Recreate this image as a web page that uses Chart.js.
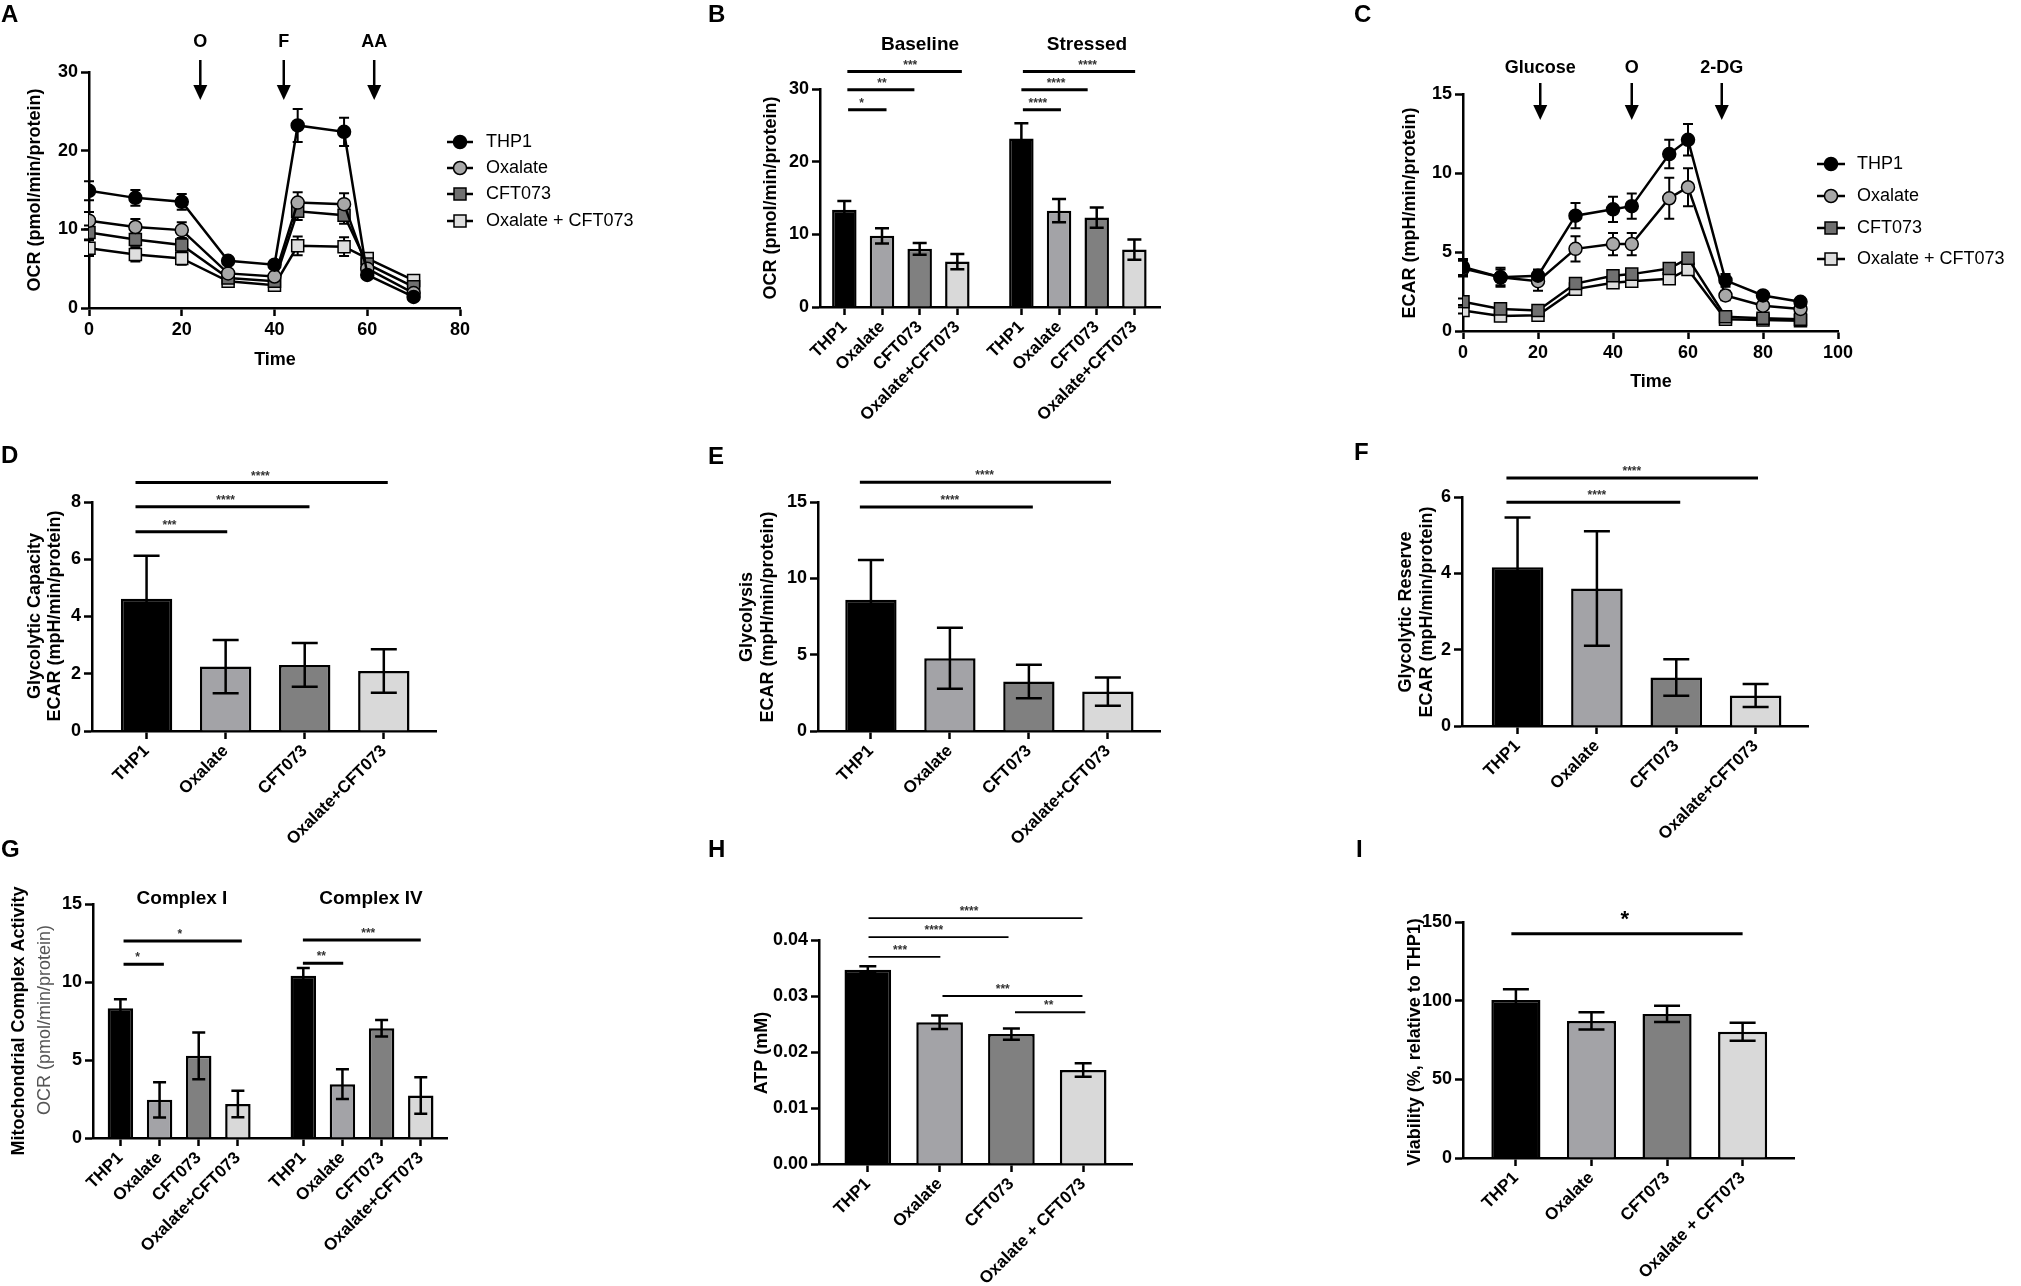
<!DOCTYPE html>
<html>
<head>
<meta charset="utf-8">
<script src="https://cdn.jsdelivr.net/npm/chart.js@4.4.0/dist/chart.umd.min.js"></script>
<style>
  html, body { margin: 0; padding: 0; background: #fff; }
  body { position: relative; width: 2021px; height: 1286px; overflow: hidden; }
  canvas { position: absolute; }
</style>
</head>
<body>
<script>
const FONT = '"Liberation Sans", Arial, sans-serif';
Chart.defaults.font.family = FONT;
Chart.defaults.color = '#000';

// shared categories and styling
const groups = ['THP1', 'Oxalate', 'CFT073', 'Oxalate+CFT073'];
const groupsSpaced = ['THP1', 'Oxalate', 'CFT073', 'Oxalate + CFT073'];
const legendNames = ['THP1', 'Oxalate', 'CFT073', 'Oxalate + CFT073'];
const barFill = ['#000000', '#a3a3a7', '#808080', '#d9d9d9'];
const lineFill = ['#000000', '#a8a8a8', '#707070', '#dedede'];
const markers = ['circle', 'circle', 'rect', 'rect'];

// A - OCR time course
const timeA = [0, 10, 20, 30, 40, 45, 55, 60, 70];
const ocrTHP1 = [14.9, 14.0, 13.5, 6.0, 5.5, 23.2, 22.4, 4.2, 1.4];
const ocrOxalate = [11.1, 10.3, 9.9, 4.4, 4.0, 13.4, 13.2, 5.0, 1.9];
const ocrCFT = [9.6, 8.7, 8.0, 3.8, 3.4, 12.3, 11.8, 5.6, 2.7];
const ocrOxCFT = [7.6, 6.8, 6.3, 3.4, 2.9, 7.9, 7.8, 6.3, 3.5];
const ocrTHP1Err = [1.2, 1.0, 1.0, 0.3, 0.3, 2.1, 1.8, 0.4, 0.3];
const ocrOxalateErr = [1.1, 1.0, 1.0, 0.4, 0.4, 1.3, 1.4, 0.5, 0.3];
const ocrCFTErr = [0.9, 0.8, 0.8, 0.3, 0.3, 1.1, 1.1, 0.5, 0.3];
const ocrOxCFTErr = [1.0, 0.9, 0.8, 0.3, 0.3, 1.2, 1.2, 0.5, 0.3];
const injectA = [[24, 'O'], [42, 'F'], [61.5, 'AA']];

// B - baseline / stressed OCR
const ocrBaseline = [13.4, 9.8, 8.0, 6.25];
const ocrBaselineErr = [1.2, 1.05, 0.8, 1.05];
const ocrStressed = [23.2, 13.25, 12.3, 7.9];
const ocrStressedErr = [2.1, 1.6, 1.4, 1.4];

// C - ECAR time course
const timeC = [0, 10, 20, 30, 40, 45, 55, 60, 70, 80, 90];
const ecarTHP1 = [4.05, 3.4, 3.5, 7.3, 7.7, 7.9, 11.2, 12.1, 3.2, 2.25, 1.85];
const ecarOxalate = [3.95, 3.4, 3.15, 5.2, 5.5, 5.5, 8.4, 9.1, 2.25, 1.6, 1.4];
const ecarCFT = [1.85, 1.4, 1.3, 3.0, 3.5, 3.6, 3.95, 4.6, 0.9, 0.8, 0.75];
const ecarOxCFT = [1.3, 0.95, 1.0, 2.65, 3.05, 3.15, 3.3, 3.9, 0.75, 0.7, 0.65];
const ecarTHP1Err = [0.5, 0.6, 0.4, 0.8, 0.8, 0.8, 0.9, 1.0, 0.4, 0.2, 0.15];
const ecarOxalateErr = [0.5, 0.5, 0.6, 0.8, 0.7, 0.7, 1.3, 1.2, 0.3, 0.2, 0.15];
const ecarCFTErr = [0.2, 0.2, 0.2, 0.2, 0.2, 0.2, 0.2, 0.2, 0.15, 0.15, 0.15];
const ecarOxCFTErr = [0.2, 0.2, 0.2, 0.2, 0.2, 0.2, 0.2, 0.2, 0.15, 0.15, 0.15];
const injectC = [[20.6, 'Glucose'], [45, 'O'], [69, '2-DG']];

// D, E, F - glycolysis parameters
const glyCapacity = [4.62, 2.25, 2.31, 2.1];
const glyCapacityErr = [1.5, 0.93, 0.76, 0.76];
const glycolysis = [8.6, 4.77, 3.24, 2.58];
const glycolysisErr = [2.6, 2.0, 1.1, 0.92];
const glyReserve = [4.16, 3.6, 1.27, 0.8];
const glyReserveErr = [1.3, 1.5, 0.48, 0.3];

// G - complex activity
const complexI = [8.32, 2.45, 5.27, 2.18];
const complexIErr = [0.58, 1.13, 1.5, 0.85];
const complexIV = [10.4, 3.45, 7.04, 2.73];
const complexIVErr = [0.5, 0.95, 0.53, 1.17];

// H - ATP, I - viability
const atp = [0.0347, 0.0253, 0.0232, 0.0168];
const atpErr = [0.0006, 0.0012, 0.001, 0.0012];
const viability = [100.5, 87.1, 91.6, 80.3];
const viabilityErr = [6.8, 5.5, 5.1, 5.7];

// bar slots on the x axis
const pos4 = [0, 1, 2, 3];
const posB = [0, 1, 2, 3, 4.7, 5.7, 6.7, 7.7];
const posG = [0, 1, 2, 3, 4.67, 5.67, 6.67, 7.67];

// significance lines: [from, to, y, stars, star x]
const sigB = [[0.1, 1.12, 27.15, '*', 0.46], [0.08, 1.86, 29.9, '**', 1.0], [0.08, 3.12, 32.4, '***', 1.75],
              [4.74, 5.75, 27.15, '****', 5.14], [4.7, 6.46, 29.9, '****', 5.62], [4.74, 7.72, 32.4, '****', 6.46]];
const sigD = [[-0.14, 1.02, 6.96, '***', 0.29], [-0.14, 2.06, 7.83, '****', 1.0], [-0.14, 3.05, 8.68, '****', 1.44]];
const sigE = [[-0.14, 2.05, 14.68, '****', 1.0], [-0.14, 3.04, 16.3, '****', 1.44]];
const sigF = [[-0.14, 2.05, 5.86, '****', 1.0], [-0.14, 3.03, 6.5, '****', 1.44]];
const sigG = [[0.08, 1.11, 11.14, '*', 0.44], [0.08, 3.1, 12.63, '*', 1.52],
              [4.66, 5.69, 11.2, '**', 5.13], [4.66, 7.67, 12.7, '***', 6.33]];
const sigH = [[0.01, 1.01, 0.0370, '***', 0.45], [0.01, 1.96, 0.0405, '****', 0.92], [0.01, 2.99, 0.0439, '****', 1.41],
              [1.04, 2.99, 0.0300, '***', 1.88], [2.05, 3.03, 0.0271, '**', 2.52]];
const sigI = [[-0.06, 3.0, 142.6, '*', 1.44]];

const panels = {};

function drawErr(chart, p) {
  const ctx = chart.ctx, ys = chart.scales.y, h = p.cap / 2;
  ctx.save();
  ctx.strokeStyle = '#000';
  ctx.lineWidth = p.errWidth || 2.5;
  p.errors.forEach((errs, i) => {
    const meta = chart.getDatasetMeta(i);
    const data = chart.data.datasets[i].data;
    meta.data.forEach((el, j) => {
      const v = data[j].y, e = errs[j], x = el.x;
      const t = ys.getPixelForValue(v + e), b = ys.getPixelForValue(v - e);
      ctx.beginPath();
      ctx.moveTo(x, t); ctx.lineTo(x, b);
      ctx.moveTo(x - h, t); ctx.lineTo(x + h, t);
      ctx.moveTo(x - h, b); ctx.lineTo(x + h, b);
      ctx.stroke();
    });
  });
  ctx.restore();
}

const overlay = {
  id: 'overlay',
  beforeDatasetsDraw(chart) {
    const p = panels[chart.canvas.id];
    if (p.lineErr) drawErr(chart, p);
  },
  afterDatasetsDraw(chart) {
    const p = panels[chart.canvas.id];
    if (!p.lineErr) drawErr(chart, p);
  },
  afterDraw(chart) {
    const p = panels[chart.canvas.id], ctx = chart.ctx;
    const xs = chart.scales.x, ys = chart.scales.y;
    const bx = p.box.x, by = p.box.y;
    ctx.save();
    ctx.fillStyle = '#000';
    ctx.strokeStyle = '#000';

    // panel letter
    ctx.font = 'bold 24px ' + FONT;
    ctx.textAlign = 'left';
    ctx.textBaseline = 'middle';
    ctx.fillText(p.letter[0], p.letter[1] - bx, p.letter[2] - by);

    // titles and headings
    (p.titles || []).forEach(t => {
      ctx.save();
      ctx.translate(t.x - bx, t.y - by);
      if (t.rot) ctx.rotate(-Math.PI / 2);
      ctx.font = (t.weight || 'bold') + ' ' + (t.size || 18) + 'px ' + FONT;
      ctx.fillStyle = t.color || '#000';
      ctx.textAlign = 'center';
      ctx.textBaseline = 'middle';
      ctx.fillText(t.text, 0, 0);
      ctx.restore();
    });

    // legend with line + marker
    if (p.legend) {
      const L = p.legend;
      legendNames.forEach((name, i) => {
        const y = L.ys[i] - by, x1 = L.x1 - bx, x2 = L.x2 - bx, cx = (x1 + x2) / 2;
        ctx.lineWidth = 2.5;
        ctx.beginPath(); ctx.moveTo(x1, y); ctx.lineTo(x2, y); ctx.stroke();
        ctx.lineWidth = 1.5;
        ctx.fillStyle = lineFill[i];
        ctx.beginPath();
        if (markers[i] === 'circle') ctx.arc(cx, y, 6.5, 0, Math.PI * 2);
        else ctx.rect(cx - 6, y - 6, 12, 12);
        ctx.fill(); ctx.stroke();
        ctx.fillStyle = '#000';
        ctx.font = '18px ' + FONT;
        ctx.textAlign = 'left';
        ctx.textBaseline = 'middle';
        ctx.fillText(name, L.tx - bx, y);
      });
    }

    // injection arrows
    if (p.arrows) {
      const A = p.arrows;
      A.items.forEach(([t, label]) => {
        const x = xs.getPixelForValue(t);
        const top = A.top - by, tip = A.tip - by;
        ctx.lineWidth = 2.5;
        ctx.beginPath(); ctx.moveTo(x, top); ctx.lineTo(x, tip - 12); ctx.stroke();
        ctx.beginPath();
        ctx.moveTo(x - 7, tip - 15); ctx.lineTo(x + 7, tip - 15); ctx.lineTo(x, tip);
        ctx.closePath(); ctx.fill();
        ctx.font = 'bold 18px ' + FONT;
        ctx.textAlign = 'center';
        ctx.textBaseline = 'middle';
        ctx.fillText(label, x, A.textY - by);
      });
    }

    // significance lines
    (p.sig || []).forEach(([x1, x2, yv, stars, sx]) => {
      const y = ys.getPixelForValue(yv);
      ctx.lineWidth = p.sigWidth || 3;
      ctx.beginPath();
      ctx.moveTo(xs.getPixelForValue(x1), y);
      ctx.lineTo(xs.getPixelForValue(x2), y);
      ctx.stroke();
      ctx.fillStyle = p.starColor || '#333';
      ctx.font = p.starFont || ('bold 12px ' + FONT);
      ctx.textAlign = 'center';
      ctx.textBaseline = 'alphabetic';
      ctx.fillText(stars, xs.getPixelForValue(sx), y - (p.starGap || 3));
    });
    ctx.restore();
  }
};

function gridOpts() {
  return { drawOnChartArea: false, drawTicks: true, tickLength: 8, tickWidth: 2.5, tickColor: '#000', offset: false };
}
function borderOpts() {
  return { display: true, color: '#000', width: 2.5 };
}
function yAxis(min, max, step, fmt) {
  const ticks = { stepSize: step, color: '#000', font: { size: 18, weight: 'bold' }, padding: 3 };
  if (fmt) ticks.callback = fmt;
  return { type: 'linear', min: min, max: max, ticks: ticks, grid: gridOpts(), border: borderOpts() };
}
function xTime(max) {
  return {
    type: 'linear', min: 0, max: max,
    ticks: { stepSize: 20, color: '#000', font: { size: 18, weight: 'bold' }, padding: 3, maxRotation: 0 },
    grid: gridOpts(), border: borderOpts()
  };
}
function xBars(min, max, positions, labels) {
  return {
    type: 'linear', min: min, max: max, offset: false,
    afterBuildTicks: s => { s.ticks = positions.map(v => ({ value: v })); },
    ticks: {
      autoSkip: false, minRotation: 45, maxRotation: 45, padding: 2,
      color: '#000', font: { size: 17, weight: 'bold' },
      callback: (v, i) => labels[i]
    },
    grid: gridOpts(), border: borderOpts()
  };
}
function lineSet(times, vals, i) {
  return {
    data: times.map((t, k) => ({ x: t, y: vals[k] })),
    borderColor: '#000', borderWidth: 2.5, tension: 0, fill: false,
    pointStyle: markers[i], pointRadius: markers[i] === 'circle' ? 6.5 : 8.5,
    pointBackgroundColor: lineFill[i], pointBorderColor: '#000', pointBorderWidth: 1.5
  };
}
function barSet(positions, vals, colors) {
  return {
    data: positions.map((x, k) => ({ x: x, y: vals[k] })),
    backgroundColor: colors, borderColor: '#000', borderWidth: 2.5, borderSkipped: 'start',
    categoryPercentage: 1, barPercentage: 0.65
  };
}

function makeChart(id, box, plot, type, datasets, scales, extra) {
  const cv = document.createElement('canvas');
  cv.id = id;
  cv.width = box.w; cv.height = box.h;
  cv.style.left = box.x + 'px'; cv.style.top = box.y + 'px';
  cv.style.width = box.w + 'px'; cv.style.height = box.h + 'px';
  document.body.appendChild(cv);
  extra.box = box;
  panels[id] = extra;
  scales.x.afterFit = s => { s.height = box.y + box.h - plot.b; };
  scales.y.afterFit = s => { s.width = plot.l - box.x; };
  return new Chart(cv.getContext('2d'), {
    type: type,
    data: { datasets: datasets },
    options: {
      responsive: false, animation: false, devicePixelRatio: 1, events: [],
      layout: { padding: { left: 0, top: plot.t - box.y, right: box.x + box.w - plot.r, bottom: 0 } },
      scales: scales,
      plugins: { legend: { display: false }, tooltip: { enabled: false } }
    },
    plugins: [overlay]
  });
}

const colors8 = barFill.concat(barFill);

// A
makeChart('A', { x: 0, y: 0, w: 690, h: 425 }, { l: 89, t: 72, r: 460, b: 308 }, 'line',
  [lineSet(timeA, ocrTHP1, 0), lineSet(timeA, ocrOxalate, 1), lineSet(timeA, ocrCFT, 2), lineSet(timeA, ocrOxCFT, 3)],
  { x: xTime(80), y: yAxis(0, 30, 10) },
  {
    letter: ['A', 1, 15], lineErr: true, cap: 10, errWidth: 2,
    errors: [ocrTHP1Err, ocrOxalateErr, ocrCFTErr, ocrOxCFTErr],
    titles: [{ text: 'OCR (pmol/min/protein)', x: 35, y: 190, rot: true }, { text: 'Time', x: 275, y: 360 }],
    legend: { x1: 447, x2: 473, tx: 486, ys: [142, 168, 194, 221] },
    arrows: { items: injectA, textY: 42, top: 60, tip: 100 }
  });

// B
makeChart('B', { x: 680, y: 0, w: 680, h: 430 }, { l: 820, t: 89, r: 1160, b: 307 }, 'bar',
  [barSet(posB, ocrBaseline.concat(ocrStressed), colors8)],
  { x: xBars(-0.646, 8.38, posB, groups.concat(groups)), y: yAxis(0, 30, 10) },
  {
    letter: ['B', 708, 15], cap: 14,
    errors: [ocrBaselineErr.concat(ocrStressedErr)],
    titles: [{ text: 'OCR (pmol/min/protein)', x: 771, y: 198, rot: true },
             { text: 'Baseline', x: 920, y: 45, size: 19 }, { text: 'Stressed', x: 1087, y: 45, size: 19 }],
    sig: sigB
  });

// C
makeChart('C', { x: 1345, y: 0, w: 676, h: 425 }, { l: 1463, t: 94, r: 1838, b: 331 }, 'line',
  [lineSet(timeC, ecarTHP1, 0), lineSet(timeC, ecarOxalate, 1), lineSet(timeC, ecarCFT, 2), lineSet(timeC, ecarOxCFT, 3)],
  { x: xTime(100), y: yAxis(0, 15, 5) },
  {
    letter: ['C', 1354, 15], lineErr: true, cap: 10, errWidth: 2,
    errors: [ecarTHP1Err, ecarOxalateErr, ecarCFTErr, ecarOxCFTErr],
    titles: [{ text: 'ECAR (mpH/min/protein)', x: 1410, y: 213, rot: true }, { text: 'Time', x: 1651, y: 382 }],
    legend: { x1: 1817, x2: 1845, tx: 1857, ys: [164, 196, 228, 259] },
    arrows: { items: injectC, textY: 68, top: 83, tip: 120 }
  });

// D
makeChart('D', { x: 0, y: 425, w: 690, h: 440 }, { l: 92, t: 502, r: 436, b: 731 }, 'bar',
  [barSet(pos4, glyCapacity, barFill)],
  { x: xBars(-0.69, 3.66, pos4, groups), y: yAxis(0, 8, 2) },
  {
    letter: ['D', 1, 456], cap: 26, errors: [glyCapacityErr],
    titles: [{ text: 'Glycolytic Capacity', x: 35, y: 616, rot: true },
             { text: 'ECAR (mpH/min/protein)', x: 55.5, y: 616, rot: true }],
    sig: sigD
  });

// E
makeChart('E', { x: 680, y: 425, w: 680, h: 440 }, { l: 818, t: 502, r: 1160, b: 731 }, 'bar',
  [barSet(pos4, glycolysis, barFill)],
  { x: xBars(-0.67, 3.66, pos4, groups), y: yAxis(0, 15, 5) },
  {
    letter: ['E', 708, 457], cap: 26, errors: [glycolysisErr],
    titles: [{ text: 'Glycolysis', x: 747, y: 617, rot: true },
             { text: 'ECAR (mpH/min/protein)', x: 768, y: 617, rot: true }],
    sig: sigE
  });

// F
makeChart('F', { x: 1345, y: 425, w: 676, h: 440 }, { l: 1462, t: 497, r: 1808, b: 726 }, 'bar',
  [barSet(pos4, glyReserve, barFill)],
  { x: xBars(-0.70, 3.66, pos4, groups), y: yAxis(0, 6, 2) },
  {
    letter: ['F', 1354, 453], cap: 26, errors: [glyReserveErr],
    titles: [{ text: 'Glycolytic Reserve', x: 1406, y: 612, rot: true },
             { text: 'ECAR (mpH/min/protein)', x: 1427, y: 612, rot: true }],
    sig: sigF
  });

// G
makeChart('G', { x: 0, y: 835, w: 690, h: 451 }, { l: 93, t: 904, r: 447, b: 1138 }, 'bar',
  [barSet(posG, complexI.concat(complexIV), colors8)],
  { x: xBars(-0.70, 8.34, posG, groups.concat(groups)), y: yAxis(0, 15, 5) },
  {
    letter: ['G', 1, 850], cap: 13, errors: [complexIErr.concat(complexIVErr)],
    titles: [{ text: 'Mitochondrial Complex Activity', x: 19.5, y: 1021, rot: true },
             { text: 'OCR (pmol/min/protein)', x: 44.7, y: 1020, rot: true, weight: 'normal', color: '#555' },
             { text: 'Complex I', x: 182, y: 899, size: 19 }, { text: 'Complex IV', x: 371, y: 899, size: 19 }],
    sig: sigG
  });

// H
makeChart('H', { x: 680, y: 835, w: 680, h: 451 }, { l: 819, t: 940, r: 1132, b: 1164 }, 'bar',
  [barSet(pos4, atp, barFill)],
  { x: xBars(-0.68, 3.68, pos4, groupsSpaced), y: yAxis(0, 0.04, 0.01, v => v.toFixed(2)) },
  {
    letter: ['H', 708, 850], cap: 17, errWidth: 2.5, errors: [atpErr],
    titles: [{ text: 'ATP (mM)', x: 762, y: 1053, rot: true }],
    sig: sigH, sigWidth: 1.8
  });

// I
makeChart('I', { x: 1345, y: 835, w: 676, h: 451 }, { l: 1463, t: 922, r: 1794, b: 1158 }, 'bar',
  [barSet(pos4, viability, barFill)],
  { x: xBars(-0.70, 3.68, pos4, groupsSpaced), y: yAxis(0, 150, 50) },
  {
    letter: ['I', 1356, 850], cap: 26, errors: [viabilityErr],
    titles: [{ text: 'Viability (%, relative to THP1)', x: 1415, y: 1042, rot: true }],
    sig: sigI, starFont: 'bold 22px ' + FONT, starGap: 8, starColor: '#000'
  });
</script>
</body>
</html>
